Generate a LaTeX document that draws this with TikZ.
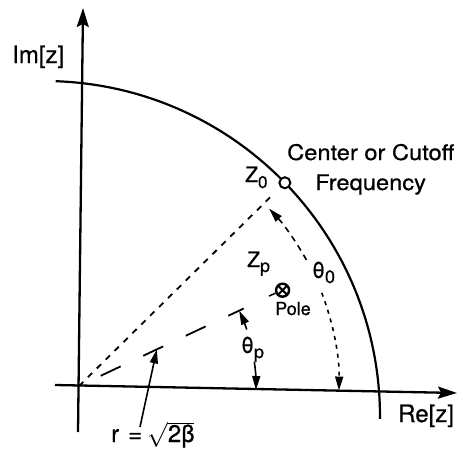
\documentclass[tikz,border=0pt]{standalone}
\usepackage{fontspec}
\setmainfont{TeX Gyre Heros}
\newcommand{\heavyfont}{\addfontfeature{FakeBold=0.6}}
\usetikzlibrary{arrows.meta,calc}
\begin{document}
\begin{tikzpicture}[x=1pt,y=1pt,
  axis/.style={line width=2.3pt,-{Stealth[length=19pt,width=12pt,inset=3pt]}},
  rim/.style={line width=2.2pt},
  shortdash/.style={line width=1.8pt,dash pattern=on 6pt off 6.5pt},
  longdash/.style={line width=1.8pt,dash pattern=on 22pt off 25pt,dash phase=23pt},
  tiparrow/.style={line width=1.6pt,-{Triangle[length=14pt,width=8pt]}},
  lbl/.style={inner sep=0pt,anchor=base west},
  big/.style={font=\fontsize{24}{24}\selectfont\heavyfont},
  mid/.style={font=\fontsize{21.5}{21.5}\selectfont\addfontfeature{FakeStretch=1.1,FakeBold=0.6}},
  zcirc/.style={circle,draw,fill=white,line width=2pt,minimum size=11pt,inner sep=0pt},
  polesym/.style={circle,draw,line width=2.4pt,minimum size=13pt,inner sep=0pt,
    path picture={\draw[line width=2pt]
      (path picture bounding box.south west) -- (path picture bounding box.north east)
      (path picture bounding box.north west) -- (path picture bounding box.south east);}}
]
\useasboundingbox (0,0) rectangle (463,451);
% key points
\coordinate (O) at (79,65);
\coordinate (C) at (44,34);
\coordinate (ybot) at (78,19);
\coordinate (ytop) at (83,443);
\coordinate (xleft) at (55,66);
\coordinate (xright) at (457,58);
% axes
\draw[axis] (ybot) -- (ytop);
\draw[axis] (xleft) -- (xright);
% unit-circle arc
\draw[rim] ($(C)+(-0.3:336)$) arc[start angle=-0.3,end angle=88,radius=336];
% Z0 point
\node[zcirc] (z0) at ($(C)+(44.2:336)$) {};
\draw[shortdash] (O) -- (z0) [shorten >=12pt];
% pole
\node[polesym] (pole) at ($(O)+(25.2:225)$) {};
\coordinate (polelead) at (269,155);
\draw[line width=1.5pt] (polelead) -- (pole);
\draw[longdash] (O) -- ($(O)!182pt!(pole)$);
% theta_0 arcs
\draw[tiparrow,dash pattern=on 6pt off 5pt] ($(O)+(29:260)$) arc[start angle=29,end angle=43,radius=260];
\draw[tiparrow,dash pattern=on 4pt off 5pt] ($(O)+(21:260)$) arc[start angle=21,end angle=-1,radius=260];
% theta_p arcs
\draw[tiparrow] ($(O)+(18.6:177)$) arc[start angle=18.6,end angle=25.2,radius=177];
\draw[tiparrow] ($(O)+(7.9:177)$) arc[start angle=7.9,end angle=-1.3,radius=177];
% r arrow
\coordinate (rfoot) at (140,24);
\coordinate (rtip) at ($(O)+(25.2:86)$);
\draw[tiparrow] (rfoot) -- (rtip);
% labels
\node[lbl,big] (im) at (12,388) {Im[z]};
\node[lbl,big] (re) at (398,29) {Re[z]};
\node[lbl,mid] (cen) at (287,291) {Center or Cutoff};
\node[lbl,mid] (freq) at (315,261) {Frequency};
\node[lbl,font=\fontsize{21}{21}\selectfont\heavyfont] (z0lbl) at (245,269) {Z\raisebox{-6pt}{\fontsize{17}{17}\selectfont\heavyfont 0}};
\node[lbl,font=\fontsize{21}{21}\selectfont\heavyfont] (zplbl) at (247,184) {Z\raisebox{-5pt}{\fontsize{18}{18}\selectfont\heavyfont p}};
\node[lbl,font=\fontsize{22}{22}\selectfont\heavyfont] (th0) at (312,173) {θ\raisebox{-5pt}{\fontsize{18}{18}\selectfont\heavyfont 0}};
\node[lbl,font=\fontsize{22}{22}\selectfont\heavyfont] (thp) at (241,98) {θ\raisebox{-5pt}{\fontsize{18}{18}\selectfont\heavyfont p}};
\node[lbl,font=\fontsize{18}{18}\selectfont\heavyfont] (poletxt) at (275,136) {Pole};
\node[lbl,big] (rlbl) at (111,9) {r\hspace{9pt}=\hspace{5pt}$\sqrt{\hbox{2β}}$};
\end{tikzpicture}
\end{document}
